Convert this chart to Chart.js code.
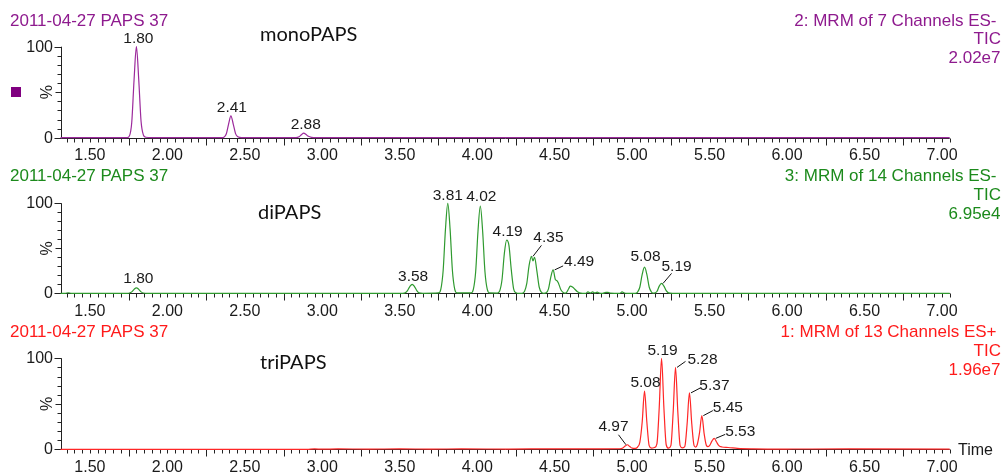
<!DOCTYPE html>
<html><head><meta charset="utf-8">
<script src="https://cdn.jsdelivr.net/npm/chart.js@4/dist/chart.umd.min.js"></script>
<style>
html,body{margin:0;padding:0;background:#fff;}
#wrap{position:relative;width:1003px;height:473px;overflow:hidden;background:#fff;}
canvas{position:absolute;left:0;top:0;}
</style></head><body>
<div id="wrap">
<canvas id="c1" width="1003" height="473"></canvas>
<canvas id="c2" width="1003" height="473"></canvas>
<canvas id="c3" width="1003" height="473"></canvas>
</div>
<script>
// ---------------- DATA ----------------
const sampleName = '2011-04-27 PAPS 37';
const xMin = 1.31, xMax = 7.05;
const xTickLabels = ['1.50','2.00','2.50','3.00','3.50','4.00','4.50','5.00','5.50','6.00','6.50','7.00'];
const yTickLabels = ['0','100'];
const yAxisTitle = '%';
const xAxisTitle = 'Time';

const monoName = 'monoPAPS';
const monoHeader = ['2: MRM of 7 Channels ES-','TIC','2.02e7'];
const monoTimes  = [1.31,1.74,1.755,1.77,1.785,1.80,1.815,1.83,1.845,1.86,1.90,2.35,2.365,2.38,2.395,2.41,2.425,2.44,2.455,2.48,2.83,2.85,2.865,2.88,2.895,2.91,2.93,2.96,7.05];
const monoValues = [0,0,2,17,64,100,64,18,3,0.5,0,0,0.5,4,15,24,15,4.5,1,0,0,1,3.2,5,3.5,1.5,0.4,0,0];
const monoPeaks  = [1.80,2.41,2.88];

const diName = 'diPAPS';
const diHeader = ['3: MRM of 14 Channels ES-','TIC','6.95e4'];
const diTimes  = [1.31,1.34,1.36,1.38,1.74,1.755,1.77,1.785,1.80,1.815,1.83,1.845,1.87,
  3.52,3.535,3.55,3.565,3.58,3.595,3.61,3.625,3.65,
  3.75,3.765,3.78,3.795,3.81,3.825,3.84,3.855,3.87,
  3.96,3.975,3.99,4.005,4.02,4.035,4.05,4.065,4.08,
  4.13,4.145,4.16,4.175,4.19,4.205,4.22,4.235,4.25,4.27,
  4.29,4.305,4.32,4.335,4.35,4.36,4.37,4.385,4.40,4.415,4.43,
  4.445,4.46,4.475,4.49,4.505,4.515,4.525,4.54,4.555,4.57,
  4.575,4.59,4.60,4.615,4.63,4.645,4.66,4.68,
  4.70,4.715,4.73,4.745,4.76,4.775,4.79,4.81,4.83,4.845,4.86,4.92,4.935,4.95,4.97,
  5.02,5.035,5.05,5.065,5.08,5.095,5.11,5.125,5.14,
  5.16,5.175,5.19,5.205,5.22,5.235,5.26,7.05];
const diValues = [0,0,0.6,0,0,0.3,1.6,4.4,6,4.4,1.6,0.3,0,
  0,0.5,3,7.5,10,7.5,3,0.5,0,
  0.4,4.4,25,71,100,71,25,4.4,0.4,
  0.4,4.3,24,69,97,69,24,4.3,0.4,
  0.3,2.6,15,44,59,53,26,5,0.7,0,
  0,2,11,31,41,36,40,25,7,1,0,
  0.5,5,18,26,15,14,11,4,1,0.3,
  0.5,5,8,7,4.5,2,0.5,0,
  0,1.5,0.3,1.5,0.3,1.2,0.2,0,1,1,0.2,0,1.5,0.3,0,
  0,1.3,7,21,29,21,7,1.3,0.1,
  2,8,11,8,3,0.5,0,0];
const diPeaks = [1.80,3.58,3.81,4.02,4.19,4.35,4.49,5.08,5.19];

const triName = 'triPAPS';
const triHeader = ['1: MRM of 13 Channels ES+','TIC','1.96e7'];
const triTimes  = [1.31,2.90,2.95,3.00,3.10,3.30,3.50,3.70,3.90,4.20,4.50,4.80,4.92,4.94,4.955,4.97,4.985,5.00,5.02,5.035,5.05,5.065,5.08,5.095,5.11,5.125,
  5.145,5.16,5.175,5.19,5.205,5.22,5.235,5.25,5.265,5.28,5.295,5.31,5.325,5.34,5.355,5.37,5.385,5.40,5.41,5.42,5.435,5.45,5.465,5.48,5.49,
  5.50,5.515,5.53,5.545,5.56,5.58,5.62,5.68,5.78,6.00,6.40,7.05];
const triValues = [0,0,0.4,0.2,0.4,0.3,0.4,0.3,0.4,0.3,0.5,0.5,0.6,1.5,3.5,5,3,1.2,1,2.5,8,30,64,30,4,1.2,
  2,6,46,100,46,5,1.2,4,41,90,41,4,1.5,3,28,62,28,4,2.5,5,18,37,17,4,3,
  4,9,12,8,4,2.5,2,1,0.5,0.3,0.4,0.3];
const triPeaks = [4.97,5.08,5.19,5.28,5.37,5.45,5.53];

// ---------------- STYLE ----------------
const FONT = '"Liberation Sans", Arial, sans-serif';
const AXIS_COLOR = '#222';
const TEXT_COLOR = '#1a1a1a';
// label placement: text centre offset from apex [dx,dy], optional leader end [lx,ly]
const monoLabelPos = [{t:[2,-7.5]},{t:[1,-8]},{t:[2,-8]}];
const diLabelPos = [{t:[2,-9]},{t:[1,-8]},{t:[0,-8]},{t:[1,-9]},{t:[1,-8]},
  {t:[17,-19],l:[10,-11]},{t:[26,-8],l:[10,-4]},{t:[1,-10]},{t:[15,-17],l:[10,-10]}];
const triLabelPos = [{t:[-14,-18],l:[-9,-10]},{t:[1,-8]},{t:[1,-8]},
  {t:[27,-8],l:[10,-6]},{t:[25,-7],l:[11,-5]},{t:[26,-8],l:[11,-5]},{t:[26,-7],l:[11,-4]}];

const panels = [
  {id:'c1', name:monoName, header:monoHeader, times:monoTimes, values:monoValues, peaks:monoPeaks, pos:monoLabelPos,
   line:'#9c2a9c', text:'#8e1a8e', top:46.7, bottom:137.7, nameX:260, nameDy:-11.7, square:'#800080', time:false},
  {id:'c2', name:diName, header:diHeader, times:diTimes, values:diValues, peaks:diPeaks, pos:diLabelPos,
   line:'#2f9a2f', text:'#1c8a1c', top:203.3, bottom:293.3, nameX:258, nameDy:9.7, square:null, time:false},
  {id:'c3', name:triName, header:triHeader, times:triTimes, values:triValues, peaks:triPeaks, pos:triLabelPos,
   line:'#ff2626', text:'#ff1a1a', top:358.3, bottom:449.3, nameX:260, nameDy:4.7, square:null, time:true}
];

function panelPlugin(p){
  return {
    id:'panel_'+p.id,
    beforeDatasetsDraw(chart){
      const ctx = chart.ctx, xs = chart.scales.x, ys = chart.scales.y, a = chart.chartArea;
      const y0 = ys.getPixelForValue(0), yT = ys.getPixelForValue(100);
      const ax = Math.round(a.left) + 0.5, ay = Math.round(y0) + 0.5;
      const xr = xs.getPixelForValue(xMax);
      ctx.save();
      ctx.strokeStyle = AXIS_COLOR; ctx.lineWidth = 1;
      ctx.beginPath();
      ctx.moveTo(ax, yT); ctx.lineTo(ax, ay); ctx.lineTo(xr, ay);
      for (let k = Math.ceil(xMin*20); k <= Math.floor(xMax*20+1e-6); k++){
        const px = Math.round(xs.getPixelForValue(k/20)) + 0.5;
        const len = (k % 10 === 5) ? 7 : 4;
        ctx.moveTo(px, ay); ctx.lineTo(px, ay + len);
      }
      for (let v = 0; v <= 100; v += 10){
        const py = Math.round(ys.getPixelForValue(v)) + 0.5;
        const len = (v === 0 || v === 100) ? 7 : (v === 50 ? 6 : 4);
        ctx.moveTo(ax, py); ctx.lineTo(ax - len, py);
      }
      ctx.stroke();
      ctx.fillStyle = TEXT_COLOR; ctx.font = '16px ' + FONT;
      ctx.textAlign = 'center'; ctx.textBaseline = 'middle';
      xTickLabels.forEach(l => ctx.fillText(l, xs.getPixelForValue(parseFloat(l)), y0 + 18));
      ctx.textAlign = 'right';
      yTickLabels.forEach(l => ctx.fillText(l, a.left - 7.5, ys.getPixelForValue(parseFloat(l)) + 0.5));
      ctx.save(); ctx.translate(47.5, (y0 + yT)/2); ctx.rotate(-Math.PI/2);
      ctx.textAlign = 'center'; ctx.fillText(yAxisTitle, 0, 0); ctx.restore();
      ctx.fillStyle = p.text; ctx.font = '17px ' + FONT;
      ctx.textAlign = 'left';
      ctx.fillText(sampleName, 10, y0 - 116.8);
      ctx.textAlign = 'right';
      ctx.fillText(p.header[0], 996.5, y0 - 116.8);
      ctx.fillText(p.header[1], 1001, y0 - 98.2);
      ctx.fillText(p.header[2], 1000.5, y0 - 79.2);
      ctx.fillStyle = '#111'; ctx.font = '20px Lato, "Open Sans", sans-serif'; ctx.textAlign = 'left';
      ctx.fillText(p.name, p.nameX, yT + p.nameDy);
      if (p.square){ ctx.fillStyle = p.square; ctx.fillRect(11, 87, 10, 10); }
      if (p.time){
        ctx.fillStyle = TEXT_COLOR; ctx.font = '16px ' + FONT; ctx.textAlign = 'left';
        ctx.fillText(xAxisTitle, 958, y0 + 1.5);
      }
      ctx.restore();
    },
    afterDatasetsDraw(chart){
      const ctx = chart.ctx, xs = chart.scales.x, ys = chart.scales.y;
      ctx.save();
      ctx.font = '15.5px ' + FONT; ctx.fillStyle = TEXT_COLOR; ctx.strokeStyle = '#111'; ctx.lineWidth = 1;
      ctx.textAlign = 'center'; ctx.textBaseline = 'middle';
      p.peaks.forEach((t, i) => {
        let idx = 0, best = 1e9;
        p.times.forEach((tt, j) => { const d = Math.abs(tt - t); if (d < best){ best = d; idx = j; } });
        const px = xs.getPixelForValue(t), py = ys.getPixelForValue(p.values[idx]);
        const st = p.pos[i];
        if (st.l){
          ctx.beginPath();
          ctx.moveTo(px + Math.sign(st.l[0])*1.5, py);
          ctx.lineTo(px + st.l[0], py + st.l[1]);
          ctx.stroke();
        }
        ctx.fillText(t.toFixed(2), px + st.t[0], py + st.t[1]);
      });
      ctx.restore();
    }
  };
}

panels.forEach(p => {
  new Chart(document.getElementById(p.id), {
    type: 'line',
    data: { datasets: [{
      data: p.times.map((t, i) => ({x: t, y: p.values[i]})),
      borderColor: p.line, borderWidth: 1.2, pointRadius: 0, fill: false,
      cubicInterpolationMode: 'monotone', clip: false
    }]},
    options: {
      responsive: false, animation: false, devicePixelRatio: 1, events: [],
      layout: { padding: { left: 60.5, right: 1003 - 949.7, top: p.top, bottom: 473 - p.bottom } },
      scales: {
        x: { type: 'linear', min: xMin, max: xMax, display: false },
        y: { type: 'linear', min: 0, max: 100, display: false }
      },
      plugins: { legend: { display: false }, tooltip: { enabled: false } }
    },
    plugins: [panelPlugin(p)]
  });
});
</script>
</body></html>
